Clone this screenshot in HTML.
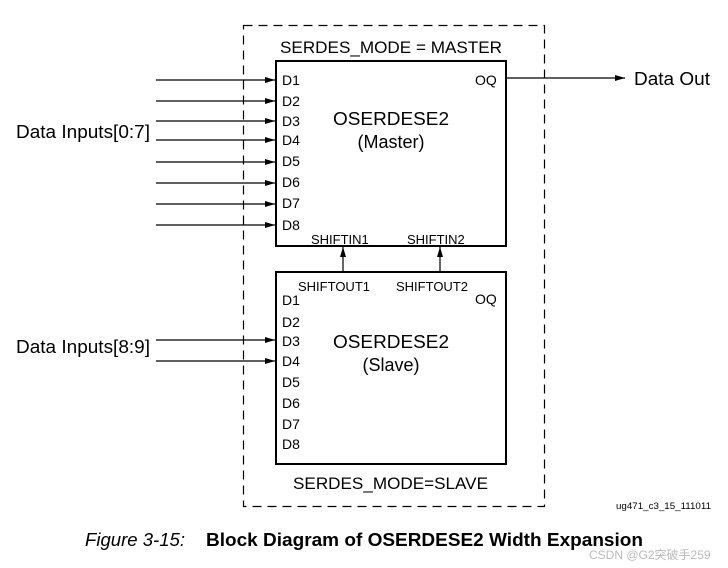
<!DOCTYPE html>
<html><head><style>body{margin:0;background:#fff}svg{display:block}text{font-family:"Liberation Sans",Arial,sans-serif;fill:#000}</style></head><body>
<svg width="728" height="568" viewBox="0 0 728 568" xmlns="http://www.w3.org/2000/svg">
<defs><marker id="a" markerWidth="10" markerHeight="6" refX="10" refY="3" orient="auto" markerUnits="userSpaceOnUse"><path d="M0,0 L10,3 L0,6z" fill="#000"/></marker></defs>
<rect x="243.5" y="25.5" width="301" height="481" fill="none" stroke="#000" stroke-width="1.2" stroke-dasharray="9,6"/>
<rect x="276" y="61" width="230" height="185" fill="none" stroke="#000" stroke-width="2"/>
<rect x="276" y="272" width="230" height="192" fill="none" stroke="#000" stroke-width="2"/>
<g stroke="#000" stroke-width="1.2" marker-end="url(#a)">
<line x1="156" y1="80" x2="275" y2="80"/><line x1="156" y1="101" x2="275" y2="101"/>
<line x1="156" y1="121" x2="275" y2="121"/><line x1="156" y1="140" x2="275" y2="140"/>
<line x1="156" y1="162" x2="275" y2="162"/><line x1="156" y1="183" x2="275" y2="183"/>
<line x1="156" y1="204" x2="275" y2="204"/><line x1="156" y1="225" x2="275" y2="225"/>
<line x1="156" y1="340" x2="275" y2="340"/><line x1="156" y1="361" x2="275" y2="361"/>
<line x1="506" y1="78" x2="625" y2="78"/>
<line x1="343" y1="272" x2="343" y2="247"/><line x1="440" y1="272" x2="440" y2="247"/>
</g>
<g font-size="18">
<text x="16" y="138" textLength="134" lengthAdjust="spacingAndGlyphs">Data Inputs[0:7]</text>
<text x="16" y="353" textLength="134" lengthAdjust="spacingAndGlyphs">Data Inputs[8:9]</text>
<text x="634" y="85" textLength="76" lengthAdjust="spacingAndGlyphs">Data Out</text>
<text x="280" y="53" font-size="17" textLength="222" lengthAdjust="spacingAndGlyphs">SERDES_MODE = MASTER</text>
<text x="293" y="489" font-size="17" textLength="195" lengthAdjust="spacingAndGlyphs">SERDES_MODE=SLAVE</text>
<text x="333" y="125" textLength="116" lengthAdjust="spacingAndGlyphs">OSERDESE2</text>
<text x="391" y="148" text-anchor="middle">(Master)</text>
<text x="333" y="348" textLength="116" lengthAdjust="spacingAndGlyphs">OSERDESE2</text>
<text x="391" y="371" text-anchor="middle">(Slave)</text>
</g>
<g font-size="14">
<text x="282" y="85">D1</text><text x="282" y="106">D2</text><text x="282" y="126">D3</text><text x="282" y="145">D4</text>
<text x="282" y="166">D5</text><text x="282" y="187">D6</text><text x="282" y="208">D7</text><text x="282" y="230">D8</text>
<text x="475" y="85">OQ</text>
<text x="282" y="305">D1</text><text x="282" y="327">D2</text><text x="282" y="346">D3</text><text x="282" y="366">D4</text>
<text x="282" y="387">D5</text><text x="282" y="408">D6</text><text x="282" y="429">D7</text><text x="282" y="449">D8</text>
<text x="475" y="304">OQ</text>
</g>
<g font-size="13">
<text x="311" y="244">SHIFTIN1</text><text x="407" y="244">SHIFTIN2</text>
<text x="298" y="291">SHIFTOUT1</text><text x="396" y="291">SHIFTOUT2</text>
</g>
<text x="616" y="509" font-size="9" textLength="95" lengthAdjust="spacingAndGlyphs">ug471_c3_15_111011</text>
<text x="85" y="546" font-size="18" font-style="italic" textLength="100" lengthAdjust="spacingAndGlyphs">Figure 3-15:</text>
<text x="206" y="546" font-size="18" font-weight="bold" textLength="437" lengthAdjust="spacingAndGlyphs">Block Diagram of OSERDESE2 Width Expansion</text>
<text x="589" y="559" font-size="12" style="fill:#bbb;font-family:'Liberation Sans','Noto Sans CJK SC',sans-serif">CSDN @G2突破手259</text>
</svg>
</body></html>
